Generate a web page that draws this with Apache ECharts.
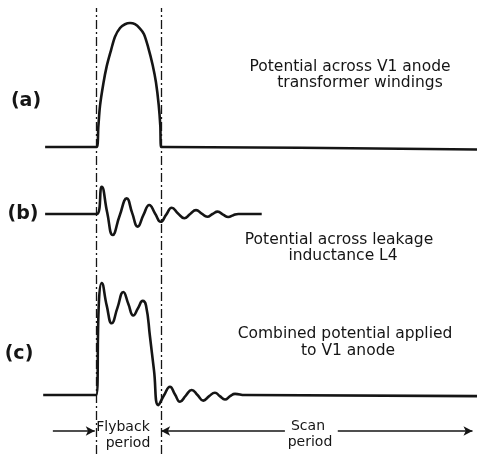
<!DOCTYPE html>
<html>
<head>
<meta charset="utf-8">
<script src="https://cdn.jsdelivr.net/npm/echarts@6/dist/echarts.min.js"></script>
<style>
html,body{margin:0;padding:0;background:#fff;}
#chart{width:477px;height:454px;}
</style>
</head>
<body>
<div id="chart"></div>
<script>
// time axis: flyback runs from 0 to 10, scan afterwards
var flyback = [0, 10];
var scanEnd = 58.3;

// (a) potential across V1 anode transformer windings
var timeA = [-8, 0, 0.25, 0.51, 1.03, 1.55, 2.22, 2.84, 3.62, 4.39, 5.17, 5.94, 6.72, 7.34, 8.01, 8.69, 9.2, 9.62, 9.87, 10, 10.5, 59];
var voltA = [0, 0, 0.16, 0.33, 0.51, 0.65, 0.78, 0.89, 0.96, 0.99, 1.0, 0.99, 0.955, 0.91, 0.8, 0.66, 0.52, 0.34, 0.17, 0, 0, -0.02];

// (b) potential across leakage inductance L4
var timeB = [-8, 0, 0.78, 1.63, 2.48, 3.57, 4.66, 5.51, 6.36, 7.26, 8.16, 9.05, 9.93, 10.79, 11.64, 12.62, 13.59, 14.5, 15.41, 16.29, 17.16, 17.97, 18.77, 19.6, 20.42, 21.2, 21.97, 25.6];
var voltB = [0, 0, 0.91, 0.05, -0.7, -0.05, 0.52, 0.03, -0.42, -0.03, 0.3, 0.02, -0.26, -0.02, 0.21, 0.02, -0.14, 0, 0.13, 0.01, -0.09, 0, 0.08, -0.02, -0.1, -0.04, 0, 0];

// (c) combined potential applied to V1 anode
var timeC = [-8.3, -0.1, 0.36, 0.78, 1.55, 2.33, 3.23, 4.13, 4.9, 5.68, 6.41, 7.14, 7.65, 8.27, 8.89, 9.56, 10.47, 11.37, 12.15, 12.92, 13.83, 14.74, 15.64, 16.54, 17.45, 18.35, 19.1, 19.9, 20.7, 21.46, 23, 59];
var voltC = [0, 0, 0.85, 1.0, 0.8, 0.64, 0.78, 0.92, 0.815, 0.71, 0.775, 0.84, 0.8, 0.52, 0.22, -0.09, 0, 0.074, 0.005, -0.06, -0.005, 0.045, 0, -0.05, -0.01, 0.02, -0.01, -0.04, -0.01, 0.01, 0, -0.01];

var ink = '#151515';
var txtFont = '15.5px "DejaVu Sans"';
var smallFont = '14px "DejaVu Sans"';
var tagFont = 'bold 19px "DejaVu Sans"';

function pairs(t, v){
	var out = [];
	for(var i=0;i<t.length;i++){
		out.push([t[i], v[i]]);
	}
	return out;
}

function wave(idx, t, v, sm){
	return {
		type: 'line',
		xAxisIndex: idx,
		yAxisIndex: idx,
		data: pairs(t, v),
		showSymbol: false,
		smooth: sm,
		clip: false,
		lineStyle: {color: ink, width: 2.6}
	};
}

function label(text, x, y, font){
	return {
		type: 'text',
		x: x,
		y: y,
		silent: true,
		style: {
			text: text,
			font: font || txtFont,
			fill: ink,
			textAlign: 'center',
			textVerticalAlign: 'middle'
		}
	};
}

var xAx = [];
for(var i=0;i<4;i++){
	xAx.push({type:'value', gridIndex:i, min:-15, max:59, show:false});
}

var arrowY = 0.0516;

var myChart = echarts.init(document.getElementById('chart'));
myChart.setOption({
	animation: false,
	backgroundColor: '#fff',
	grid: [
		{left:0, right:0, top:10.6, bottom:294.6},
		{left:0, right:0, top:184, bottom:210},
		{left:0, right:0, top:271.8, bottom:36.6},
		{left:0, right:0, top:8, bottom:0}
	],
	xAxis: xAx,
	yAxis: [
		{type:'value', gridIndex:0, min:-0.1, max:1.1, show:false},
		{type:'value', gridIndex:1, min:-1, max:1, show:false},
		{type:'value', gridIndex:2, min:-0.2, max:1.1, show:false},
		{type:'value', gridIndex:3, min:0, max:1, show:false}
	],
	series: [
		wave(0, timeA, voltA, 0.3),
		wave(1, timeB, voltB, 0.5),
		wave(2, timeC, voltC, 0.5),
		{
			// flyback boundaries
			type: 'line',
			xAxisIndex: 3,
			yAxisIndex: 3,
			data: [],
			markLine: {
				silent: true,
				symbol: 'none',
				label: {show:false},
				lineStyle: {color: ink, width: 1.3, type: [9, 3, 2, 3]},
				data: [{xAxis: flyback[0]}, {xAxis: flyback[1]}]
			}
		},
		{
			// period arrows
			type: 'line',
			xAxisIndex: 3,
			yAxisIndex: 3,
			data: [],
			markLine: {
				silent: true,
				symbol: ['none', 'arrow'],
				symbolSize: [7, 9],
				label: {show:false},
				lineStyle: {color: ink, width: 1.5, type: 'solid'},
				data: [
					[{coord:[-6.8, arrowY]}, {coord:[flyback[0] - 0.3, arrowY]}],
					[{coord:[29.2, arrowY]}, {coord:[flyback[1], arrowY]}],
					[{coord:[37.4, arrowY]}, {coord:[scanEnd, arrowY]}]
				]
			}
		}
	],
	graphic: [
		label('(a)', 26, 101, tagFont),
		label('(b)', 23, 214, tagFont),
		label('(c)', 19, 354, tagFont),
		label('Potential across V1 anode', 350, 67),
		label('transformer windings', 360, 83),
		label('Potential across leakage', 339, 240),
		label('inductance L4', 343, 256),
		label('Combined potential applied', 345, 334),
		label('to V1 anode', 348, 351),
		label('Flyback', 123, 427, smallFont),
		label('period', 128, 443, smallFont),
		label('Scan', 308, 426, smallFont),
		label('period', 310, 442, smallFont)
	]
});
</script>
</body>
</html>
